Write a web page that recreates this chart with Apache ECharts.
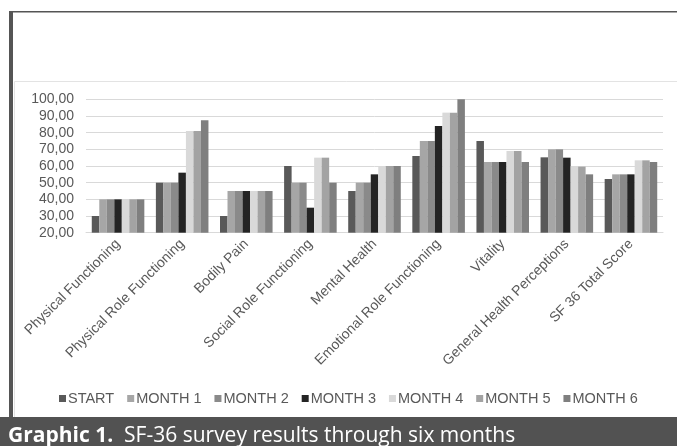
<!DOCTYPE html>
<html><head><meta charset="utf-8">
<script src="https://cdn.jsdelivr.net/npm/echarts@6/dist/echarts.min.js"></script>
<style>html,body{margin:0;padding:0;background:#fff}#c{width:677px;height:446px}</style>
</head><body><div id="c"></div>
<script>
var categories = ["Physical Functioning","Physical Role Functioning","Bodily Pain","Social Role Functioning","Mental Health","Emotional Role Functioning","Vitality","General Health Perceptions","SF 36 Total Score"];
var seriesNames = ["START","MONTH 1","MONTH 2","MONTH 3","MONTH 4","MONTH 5","MONTH 6"];
var start  = [30, 50, 30, 60, 45, 66, 75, 65.2, 52.2];
var month1 = [40, 50, 45, 50, 50, 75, 62.4, 70, 55];
var month2 = [40, 50, 45, 50, 50, 75, 62.4, 70, 55];
var month3 = [40, 56, 45, 35, 55, 84, 62.4, 65, 55];
var month4 = [40, 81, 45, 65, 60, 92, 69, 60, 63.4];
var month5 = [40, 81, 45, 65, 60, 92, 69, 59.6, 63.4];
var month6 = [40, 87.5, 45, 50, 60, 100, 62.4, 55, 62.4];
var yTicks = {min: 20, max: 100, interval: 10};
var colors = ["#595959","#a6a6a6","#8a8a8a","#242424","#d9d9d9","#a3a3a3","#7f7f7f"];
var allData = [start, month1, month2, month3, month4, month5, month6];

var chart = echarts.init(document.getElementById('c'), null, {renderer:'canvas'});
var series = seriesNames.map(function(n, i){
  return {name:n, type:'bar', data: allData[i], barGap:'0%', barCategoryGap:'18%',
    itemStyle:{color: colors[i]}, emphasis:{disabled:true}};
});
var FF = 'Liberation Sans, Arial, sans-serif';
chart.setOption({
  animation:false,
  backgroundColor:'#fff',
  textStyle:{fontFamily:FF},
  grid:{left:86, right:14, top:99.3, bottom:213.3, containLabel:false},
  legend:{data: seriesNames, top:386, left:54, padding:[5,5,5,5], icon:'rect', itemWidth:7, itemHeight:7, itemGap:13,
    textStyle:{color:'#595959', fontSize:14.5, fontFamily:FF, padding:[0,0,0,-3]}},
  xAxis:{type:'category', data: categories,
    axisLine:{lineStyle:{color:'#d9d9d9'}}, axisTick:{show:false},
    axisLabel:{rotate:45, color:'#595959', fontSize:14, fontFamily:FF, margin:9, interval:0}},
  yAxis:{type:'value', min:yTicks.min, max:yTicks.max, interval:yTicks.interval,
    axisLine:{show:false}, axisTick:{show:false},
    splitLine:{lineStyle:{color:'#d9d9d9'}},
    axisLabel:{color:'#595959', fontSize:14, fontFamily:FF, margin:12,
      formatter:function(v){return v.toFixed(2).replace('.',',');}}},
  graphic:[
    {type:'rect', shape:{x:14.5, y:81.5, width:700, height:340}, style:{fill:'none', stroke:'#e3e3e3', lineWidth:1}, z:-1},
    {type:'rect', shape:{x:9, y:11, width:668, height:1.5}, style:{fill:'#555555'}},
    {type:'rect', shape:{x:9, y:11, width:4, height:410}, style:{fill:'#555555'}},
    {type:'rect', shape:{x:0, y:417, width:677, height:29}, style:{fill:'#525252'}},
    {type:'text', x:8, y:436, style:{text:'{b|Graphic 1.}  {r|SF-36 survey results through six months}',
      verticalAlign:'middle', fontSize:21, fontFamily:'Open Sans', rich:{
        b:{fill:'#fff', fontWeight:'bold', fontSize:21, fontFamily:'Open Sans'},
        r:{fill:'#fff', fontSize:21, fontFamily:'Open Sans'}}}}
  ],
  series: series
});
</script></body></html>
